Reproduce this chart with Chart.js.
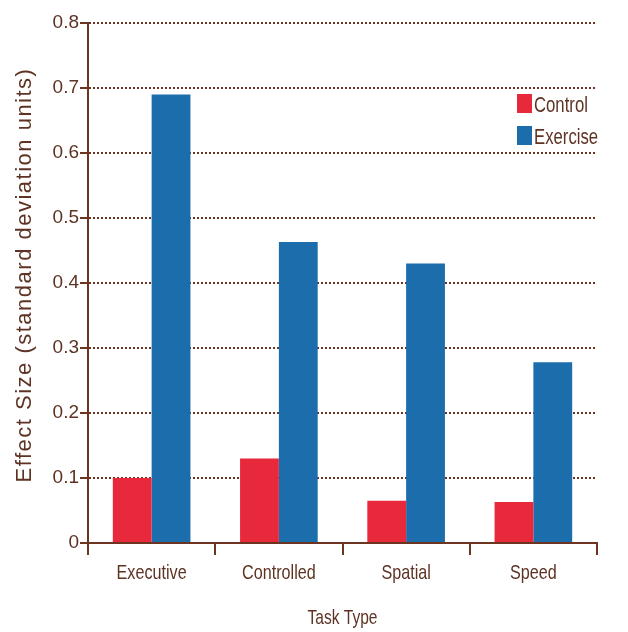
<!DOCTYPE html>
<html>
<head>
<meta charset="utf-8">
<script src="https://cdn.jsdelivr.net/npm/chart.js@4/dist/chart.umd.min.js"></script>
<style>
  html, body { margin: 0; padding: 0; background: #fff; }
  #wrap { width: 628px; height: 632px; }
</style>
</head>
<body>
<div id="wrap"><canvas id="effectChart"></canvas></div>
<script>
// data
const taskTypes = ['Executive', 'Controlled', 'Spatial', 'Speed'];
const controlValues = [0.10, 0.13, 0.065, 0.063];
const exerciseValues = [0.69, 0.463, 0.43, 0.278];
const yTicks = [0, 0.1, 0.2, 0.3, 0.4, 0.5, 0.6, 0.7, 0.8];

const brown = '#6e3422';
const textBrown = '#5e3324';
const sans = '"Liberation Sans", Arial, sans-serif';

// the print uses a condensed face, so squeeze Liberation Sans a bit
function narrowText(ctx, text, x, y, size, squeeze, align) {
    ctx.save();
    ctx.font = size + 'px ' + sans;
    ctx.textBaseline = 'alphabetic';
    const w = ctx.measureText(text).width * squeeze;
    let left = x;
    if (align === 'center') left = x - w / 2;
    ctx.translate(left, y);
    ctx.scale(squeeze, 1);
    ctx.fillStyle = textBrown;
    ctx.fillText(text, 0, 0);
    ctx.restore();
}

const printLabels = {
    id: 'printLabels',
    afterDraw(chart) {
        const ctx = chart.ctx;
        const area = chart.chartArea;
        const xs = chart.scales.x;

        // category labels
        chart.data.labels.forEach((lab, i) => {
            narrowText(ctx, lab, xs.getPixelForTick(i), area.bottom + 36, 21, 0.77, 'center');
        });
        // x title
        narrowText(ctx, 'Task Type', (area.left + area.right) / 2, area.bottom + 81, 21, 0.74, 'center');

        // y title, widely spaced
        ctx.save();
        ctx.font = '22px ' + sans;
        ctx.letterSpacing = '1.5px';
        ctx.fillStyle = textBrown;
        ctx.textAlign = 'center';
        ctx.textBaseline = 'middle';
        ctx.translate(25, area.top + 252);
        ctx.rotate(-Math.PI / 2);
        ctx.fillText('Effect Size (standard deviation units)', 0, 0);
        ctx.restore();

        // legend inside the plot, top right, between the 0.7 and 0.6 lines
        const lx = area.right - 80;
        let ly = area.top + 71;
        chart.data.datasets.forEach(ds => {
            ctx.fillStyle = ds.backgroundColor;
            ctx.fillRect(lx, ly, 15, 19);
            narrowText(ctx, ds.label, lx + 17, ly + 18, 22, 0.76, 'left');
            ly += 32;
        });
    }
};

new Chart(document.getElementById('effectChart'), {
    type: 'bar',
    data: {
        labels: taskTypes,
        datasets: [
            { label: 'Control', data: controlValues, backgroundColor: '#e8293b' },
            { label: 'Exercise', data: exerciseValues, backgroundColor: '#1b6dab' }
        ]
    },
    options: {
        responsive: true,
        maintainAspectRatio: false,
        animation: false,
        layout: { padding: { left: 0, right: 31, top: 23, bottom: 0 } },
        datasets: { bar: { barPercentage: 1.0, categoryPercentage: 0.61 } },
        plugins: {
            legend: { display: false },
            tooltip: { enabled: false }
        },
        scales: {
            x: {
                grid: {
                    offset: true,
                    drawOnChartArea: false,
                    drawTicks: true,
                    tickLength: 12,
                    color: brown,
                    lineWidth: 2
                },
                border: { display: true, color: brown, width: 2 },
                ticks: { display: false },
                afterFit: s => { s.height = 89; }
            },
            y: {
                min: 0,
                max: 0.8,
                afterBuildTicks: s => { s.ticks = yTicks.map(v => ({ value: v })); },
                ticks: {
                    color: textBrown,
                    font: { family: sans, size: 19 },
                    padding: 1,
                    callback: v => v === 0 ? '0' : v.toFixed(1)
                },
                grid: {
                    color: brown,
                    lineWidth: 2,
                    tickLength: 8,
                    tickColor: brown,
                    tickWidth: 2,
                    tickBorderDash: []
                },
                border: { display: true, color: brown, width: 2, dash: [2, 2] },
                afterFit: s => { s.width = 88; }
            }
        }
    },
    plugins: [printLabels]
});
</script>
</body>
</html>
